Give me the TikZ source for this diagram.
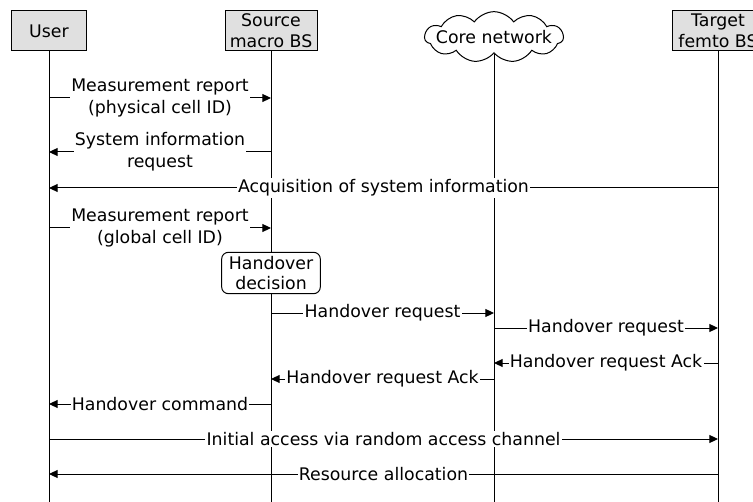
\documentclass[tikz,border=0pt]{standalone}
\usepackage{fontspec}
\setmainfont{DejaVu Sans}
\usetikzlibrary{arrows.meta, shapes.symbols, positioning}
\definecolor{actorcolor}{RGB}{224, 224, 224}
\tikzset{
    txt/.style={font=\fontsize{13}{15.5}\selectfont, align=center},
    actorbox/.style={txt, draw, fill=actorcolor, minimum height=30pt, inner sep=1pt},
    cloudbox/.style={draw, cloud, cloud puffs=11, cloud puff arc=110, aspect=2.7, minimum width=104pt, minimum height=38pt, inner sep=0pt},
    decisionbox/.style={txt, draw, fill=white, rounded corners=5pt, minimum width=74pt, minimum height=31pt, inner sep=1pt},
    lifeline/.style={line width=0.75pt},
    msg/.style={line width=0.75pt, -{Triangle[length=6.5pt, width=6pt]}},
    lbl/.style={txt, font=\fontsize{13}{16.5}\selectfont, fill=white, inner sep=1pt}
}
\begin{document}
\begin{tikzpicture}[x=0.75pt, y=-0.75pt, line width=0.75pt]
    \useasboundingbox (0,0) rectangle (753,502);

    % Participants
    \node[actorbox, minimum width=56pt] (user) at (49,31) {User};
    \node[actorbox, minimum width=69pt] (source) at (271,31) {Source\\macro BS};
    \node[cloudbox] (core) at (494,37) {};
    \node[txt] (corelbl) at (core.center) {Core network};
    \node[actorbox, minimum width=69pt] (target) at (718,31) {Target\\femto BS};

    % Lifelines
    \draw[lifeline] (user.south) -- (user.south |- 0,502);
    \draw[lifeline] (source.south) -- (source.south |- 0,502);
    \draw[lifeline] (core.south) -- (core.south |- 0,502);
    \draw[lifeline] (target.south) -- (target.south |- 0,502);

    % Cell search
    \draw[msg] (user |- 0,98) -- node[lbl] {Measurement report\\(physical cell ID)} (source |- 0,98);
    \draw[msg] (source |- 0,152) -- node[lbl] {System information\\request} (user |- 0,152);
    \draw[msg] (target |- 0,188) -- node[lbl] {Acquisition of system information} (user |- 0,188);
    \draw[msg] (user |- 0,228) -- node[lbl] {Measurement report\\(global cell ID)} (source |- 0,228);

    % Decision
    \node[decisionbox] (decision) at (source |- 0,273) {Handover\\decision};

    % Handover preparation
    \draw[msg] (source |- 0,313) -- node[lbl] {Handover request} (core |- 0,313);
    \draw[msg] (core |- 0,328) -- node[lbl] {Handover request} (target |- 0,328);
    \draw[msg] (target |- 0,363) -- node[lbl] {Handover request Ack} (core |- 0,363);
    \draw[msg] (core |- 0,379) -- node[lbl] {Handover request Ack} (source |- 0,379);
    \draw[msg] (source |- 0,404) -- node[lbl] {Handover command} (user |- 0,404);

    % Access
    \draw[msg] (user |- 0,439) -- node[lbl] {Initial access via random access channel} (target |- 0,439);
    \draw[msg] (target |- 0,474) -- node[lbl] {Resource allocation} (user |- 0,474);

\end{tikzpicture}
\end{document}
